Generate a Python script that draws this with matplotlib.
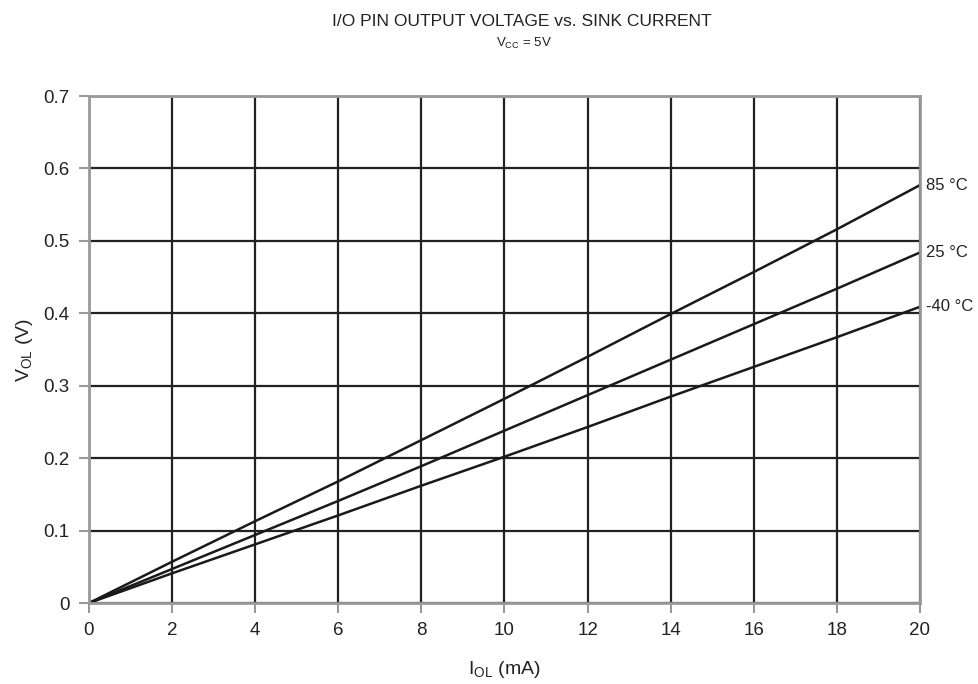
import matplotlib
matplotlib.use("Agg")
import matplotlib.pyplot as plt

plt.rcParams['font.family'] = ['Liberation Sans', 'DejaVu Sans']

current_ma = [0, 2, 4, 6, 8, 10, 12, 14, 16, 18, 20]
v_85 = [0, 0.057, 0.113, 0.168, 0.225, 0.282, 0.340, 0.399, 0.457, 0.516, 0.577]
v_25 = [0, 0.047, 0.094, 0.141, 0.189, 0.238, 0.287, 0.336, 0.385, 0.434, 0.484]
v_m40 = [0, 0.041, 0.081, 0.121, 0.162, 0.202, 0.243, 0.285, 0.326, 0.367, 0.409]
series_labels = ["85 °C", "25 °C", "-40 °C"]
x_ticks = [0, 2, 4, 6, 8, 10, 12, 14, 16, 18, 20]
y_ticks = [0, 0.1, 0.2, 0.3, 0.4, 0.5, 0.6, 0.7]
y_ticklabels = ["0", "0.1", "0.2", "0.3", "0.4", "0.5", "0.6", "0.7"]

fig = plt.figure(figsize=(9.79, 6.84), dpi=100)
ax = fig.add_axes([0.0909, 0.1184, 0.8488, 0.7412])

ax.set_xlim(0, 20)
ax.set_ylim(0, 0.7)
ax.set_xticks(x_ticks)
ax.set_xticklabels([str(t) for t in x_ticks])
ax.set_yticks(y_ticks)
ax.set_yticklabels(y_ticklabels)
ax.grid(True, color='#222222', linewidth=1.6)
ax.set_axisbelow(True)
for s in ax.spines.values():
    s.set_color('#999999')
    s.set_linewidth(2)
    s.set_zorder(3)
ax.tick_params(direction='out', length=7, width=1.5, color='#999999',
               labelsize=13.5, labelcolor='#222222', pad=7)

for ys, lab in zip([v_85, v_25, v_m40], series_labels):
    ax.plot(current_ma, ys, color='#1a1a1a', linewidth=1.8, zorder=2)
    ax.annotate(lab, xy=(current_ma[-1], ys[-1]), xytext=(4.5, 0),
                textcoords='offset points', va='center', ha='left',
                fontsize=12, color='#222222', annotation_clip=False)

ax.set_xlabel(r"$\mathregular{I_{OL}}$ (mA)", fontsize=14, color='#222222', labelpad=14)
ax.set_ylabel(r"$\mathregular{V_{OL}}$ (V)", fontsize=14, color='#222222', labelpad=6)

fig.text(0.533, 1 - 22 / 684, "I/O PIN OUTPUT VOLTAGE vs. SINK CURRENT",
         ha='center', va='center', fontsize=12.5, color='#222222')
fig.text(0.535, 1 - 43 / 684, r"$\mathregular{V_{CC}}$ = 5V",
         ha='center', va='center', fontsize=9.5, color='#222222')

fig.savefig("out.png", dpi=100)
